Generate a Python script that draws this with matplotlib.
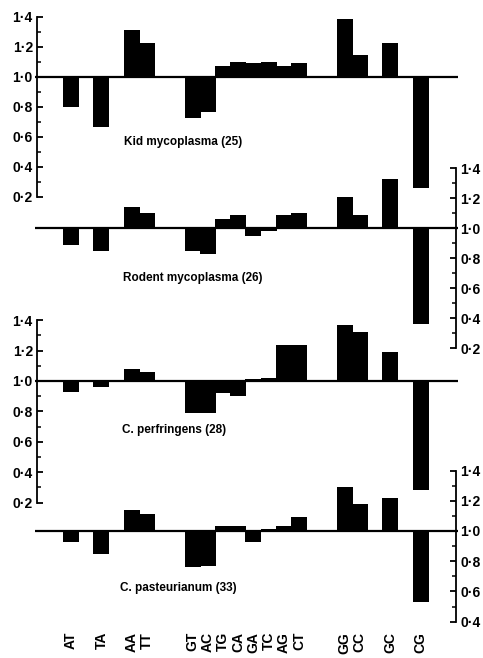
"""
Dinucleotide relative abundance profiles for four bacterial genomes,
drawn as four overlapping bar panels around a 1.0 baseline.
"""

import matplotlib

matplotlib.use("Agg")
import matplotlib.pyplot as plt
from matplotlib.ticker import FixedLocator

# ---------------------------------------------------------------------------
# Data
# ---------------------------------------------------------------------------

DINUCLEOTIDES = ["AT", "TA", "AA", "TT", "GT", "AC", "TG", "CA",
                 "GA", "TC", "AG", "CT", "GG", "CC", "GC", "CG"]

KID_MYCOPLASMA = [0.80, 0.67, 1.31, 1.23, 0.73, 0.77, 1.07, 1.10,
                  1.09, 1.10, 1.07, 1.09, 1.39, 1.15, 1.23, 0.26]
RODENT_MYCOPLASMA = [0.89, 0.85, 1.14, 1.10, 0.85, 0.83, 1.06, 1.09,
                     0.95, 0.98, 1.09, 1.10, 1.21, 1.09, 1.33, 0.36]
C_PERFRINGENS = [0.93, 0.96, 1.08, 1.06, 0.79, 0.79, 0.92, 0.90,
                 1.01, 1.02, 1.24, 1.24, 1.37, 1.32, 1.19, 0.28]
C_PASTEURIANUM = [0.93, 0.85, 1.14, 1.11, 0.76, 0.77, 1.03, 1.03,
                  0.93, 1.01, 1.03, 1.09, 1.29, 1.18, 1.22, 0.53]

TITLES = ["Kid mycoplasma (25)", "Rodent mycoplasma (26)",
          "C. perfringens (28)", "C. pasteurianum (33)"]

# ---------------------------------------------------------------------------
# Layout (pixels of a 483 x 658 figure)
# ---------------------------------------------------------------------------

FIG_W, FIG_H, DPI = 483, 658, 100
SLOTS = [0, 2, 4, 5, 8, 9, 10, 11, 12, 13, 14, 15, 18, 19, 21, 23]
X0_PX, SLOT_PX = 71.0, 15.2          # pixel centre of slot 0, width of a slot
XLIM = (-3.0, 26.0)
LEFT_SPINE_PX, RIGHT_SPINE_PX = 37.0, 456.0
BASE_FROM_PX, BASE_TO_PX = 35.0, 458.0
TEXT_FONT = ["Liberation Sans", "DejaVu Sans"]

# (baseline px, px per unit, ylim, spine side, spine bounds, label pos)
PANELS = [
    (77, 150, (0.10, 1.50), "left", (0.2, 1.4), (3.5, 0.567)),
    (228, 150, (0.10, 1.50), "right", (0.2, 1.4), (3.4, 0.667)),
    (381, 152, (0.10, 1.50), "left", (0.2, 1.4), (3.35, 0.68)),
    (531, 151, (0.36, 1.50), "right", (0.4, 1.4), (3.2, 0.62)),
]
SERIES = [KID_MYCOPLASMA, RODENT_MYCOPLASMA, C_PERFRINGENS, C_PASTEURIANUM]


def px_to_slot(px):
    return (px - X0_PX) / SLOT_PX


def fmt(v):
    return f"{v:.1f}".replace(".", "\u00b7")


plt.rcParams["font.family"] = TEXT_FONT
fig = plt.figure(figsize=(FIG_W / DPI, FIG_H / DPI), dpi=DPI)

ax_left_px = X0_PX + XLIM[0] * SLOT_PX
ax_w_px = (XLIM[1] - XLIM[0]) * SLOT_PX

for idx, (base, k, ylim, side, bounds, lab) in enumerate(PANELS):
    top_px = base - (ylim[1] - 1.0) * k
    h_px = (ylim[1] - ylim[0]) * k
    ax = fig.add_axes([ax_left_px / FIG_W, 1 - (top_px + h_px) / FIG_H,
                       ax_w_px / FIG_W, h_px / FIG_H])
    ax.patch.set_visible(False)
    ax.set_xlim(*XLIM)
    ax.set_ylim(*ylim)

    vals = SERIES[idx]
    ax.bar(SLOTS, [v - 1.0 for v in vals], bottom=1.0, width=1.05,
           color="black", edgecolor="black", linewidth=0, zorder=3)
    ax.hlines(1.0, px_to_slot(BASE_FROM_PX), px_to_slot(BASE_TO_PX),
              color="black", linewidth=1.6, zorder=4)

    for s in ["top", "bottom", "left", "right"]:
        ax.spines[s].set_visible(False)
    sp = ax.spines[side]
    sp.set_visible(True)
    sp.set_linewidth(1.3)
    sp.set_bounds(*bounds)
    spine_px = LEFT_SPINE_PX if side == "left" else RIGHT_SPINE_PX
    sp.set_position(("data", px_to_slot(spine_px)))

    n_major = int(round((bounds[1] - bounds[0]) / 0.2))
    major = [round(bounds[0] + 0.2 * i, 1) for i in range(n_major + 1)]
    minor = [round(bounds[0] + 0.1 + 0.2 * i, 1) for i in range(n_major)]
    ax.yaxis.set_major_locator(FixedLocator(major))
    ax.yaxis.set_minor_locator(FixedLocator(minor))
    ax.set_yticklabels([fmt(v) for v in major])
    if side == "right":
        ax.yaxis.tick_right()
        ax.tick_params(axis="y", which="both", left=False, right=True,
                       labelleft=False, labelright=True)
    else:
        ax.tick_params(axis="y", which="both", left=True, right=False)
    ax.tick_params(axis="y", which="major", direction="in", length=4,
                   width=1.3, pad=3, labelsize=10)
    ax.tick_params(axis="y", which="minor", direction="in", length=3,
                   width=1.1)
    for t in ax.get_yticklabels():
        t.set_fontweight("bold")

    if idx == len(PANELS) - 1:
        ax.set_xticks(SLOTS)
        ax.set_xticklabels(DINUCLEOTIDES, rotation=90, fontsize=10,
                           fontweight="bold")
        ax.tick_params(axis="x", length=0, pad=3)
    else:
        ax.set_xticks([])

    ax.text(lab[0], lab[1], TITLES[idx], fontsize=8.5, fontweight="bold",
            ha="left", va="center")

fig.savefig("out.png", dpi=DPI)
